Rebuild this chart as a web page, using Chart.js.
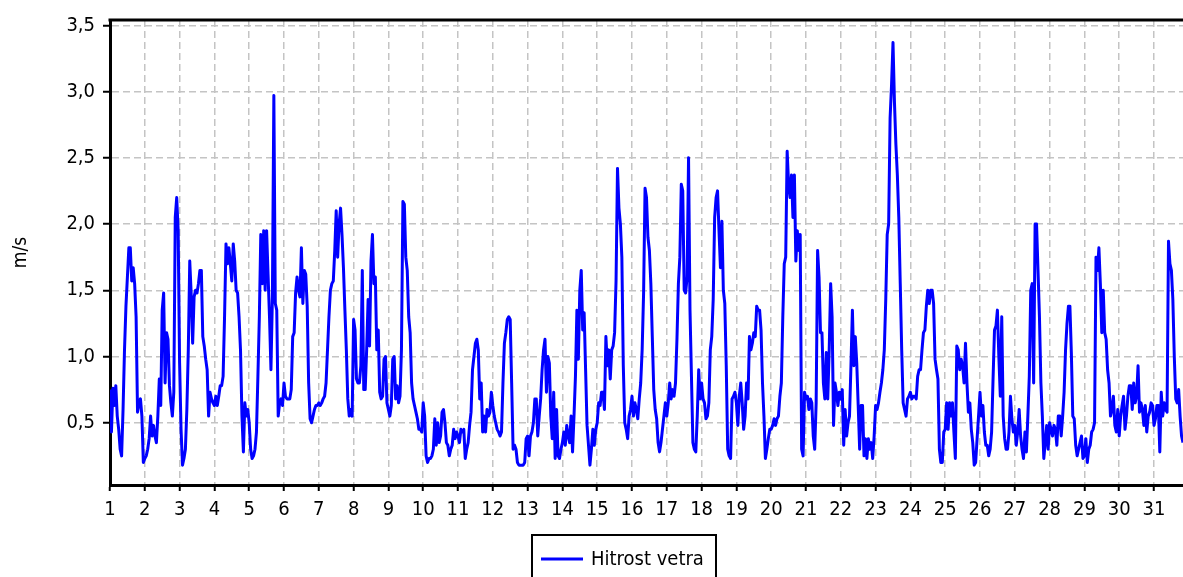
<!DOCTYPE html>
<html>
<head>
<meta charset="utf-8">
<script src="https://cdn.jsdelivr.net/npm/chart.js@4.4.1/dist/chart.umd.min.js"></script>
<style>
html,body{margin:0;padding:0;background:#ffffff;overflow:hidden;}
#wrap{position:relative;width:1183px;height:577px;}
</style>
</head>
<body>
<div id="wrap"><canvas id="chart" width="1183" height="577"></canvas></div>
<script>
// ---- data (hourly wind speed, m/s), one row per day ----
const seriesLabel = 'Hitrost vetra';
const yAxisTitle = 'm/s';
const firstDay = 1;
const hoursPerDay = 24;

const week1 = [
  0.75,0.43,0.76,0.63,0.78,0.55,0.45,0.30,0.25,0.60,1.05,1.38,1.60,1.82,1.82,1.57,1.67,1.55,1.30,0.58,0.65,0.68,0.55,0.20,
  0.23,0.25,0.30,0.38,0.55,0.40,0.48,0.40,0.35,0.55,0.83,0.63,1.35,1.48,0.80,1.18,1.13,0.78,0.65,0.55,0.73,2.05,2.20,1.95,
  0.95,0.45,0.18,0.23,0.30,0.60,1.05,1.72,1.47,1.10,1.45,1.50,1.48,1.55,1.65,1.65,1.15,1.08,0.98,0.90,0.55,0.73,0.68,0.65,
  0.63,0.70,0.63,0.70,0.78,0.78,0.85,1.30,1.85,1.70,1.82,1.70,1.57,1.85,1.72,1.50,1.48,1.30,1.05,0.55,0.28,0.65,0.55,0.60,
  0.50,0.30,0.23,0.25,0.30,0.43,0.85,1.30,1.92,1.55,1.95,1.50,1.95,1.62,1.30,0.90,1.45,2.97,1.40,1.35,0.55,0.65,0.68,0.63,
  0.80,0.70,0.68,0.68,0.68,0.75,1.15,1.18,1.48,1.60,1.50,1.45,1.82,1.40,1.65,1.62,1.38,0.80,0.53,0.50,0.55,0.60,0.63,0.63,
  0.65,0.63,0.65,0.68,0.70,0.80,1.05,1.30,1.50,1.55,1.57,1.80,2.10,1.75,2.00,2.12,1.92,1.67,1.35,1.05,0.68,0.55,0.60,0.55
];
const week2 = [
  1.28,1.20,0.83,0.80,0.80,0.93,1.65,0.75,0.75,1.05,1.43,1.08,1.72,1.92,1.55,1.60,1.05,1.20,0.73,0.68,0.70,0.98,1.00,0.65,
  0.60,0.55,0.63,0.98,1.00,0.68,0.78,0.65,0.70,1.05,2.17,2.15,1.75,1.65,1.30,1.18,0.80,0.68,0.63,0.58,0.53,0.45,0.45,0.43,
  0.65,0.55,0.25,0.20,0.23,0.23,0.25,0.30,0.53,0.33,0.50,0.35,0.40,0.58,0.60,0.50,0.35,0.33,0.25,0.30,0.33,0.45,0.38,0.43,
  0.40,0.35,0.45,0.43,0.45,0.23,0.30,0.35,0.48,0.58,0.90,1.00,1.10,1.13,1.05,0.68,0.80,0.43,0.55,0.43,0.60,0.55,0.58,0.73,
  0.63,0.55,0.50,0.45,0.43,0.40,0.43,0.80,1.10,1.18,1.28,1.30,1.28,0.80,0.30,0.33,0.30,0.20,0.18,0.18,0.18,0.18,0.20,0.38,
  0.40,0.25,0.40,0.43,0.50,0.68,0.68,0.40,0.55,0.68,0.90,1.05,1.13,0.73,1.00,0.95,0.55,0.38,0.73,0.23,0.60,0.25,0.23,0.30,
  0.35,0.43,0.33,0.48,0.40,0.35,0.55,0.28,0.55,0.85,1.35,0.98,1.50,1.65,1.20,1.33,0.90,0.48,0.33,0.18,0.30,0.45,0.33,0.45
];
const week3 = [
  0.50,0.65,0.63,0.73,0.73,0.60,1.15,0.93,1.05,0.83,1.05,1.08,1.18,1.57,2.42,2.12,2.00,1.75,0.93,0.50,0.45,0.38,0.55,0.60,
  0.70,0.55,0.65,0.60,0.53,0.68,0.80,1.05,1.48,2.27,2.20,1.90,1.80,1.55,1.15,0.75,0.60,0.53,0.35,0.28,0.35,0.45,0.55,0.65,
  0.55,0.65,0.80,0.68,0.75,0.70,0.80,1.13,1.55,1.75,2.30,2.25,1.50,1.48,1.60,2.50,1.35,0.85,0.35,0.30,0.28,0.55,0.90,0.68,
  0.80,0.68,0.65,0.53,0.55,0.65,1.05,1.15,1.43,2.05,2.20,2.25,1.95,1.67,2.02,1.50,1.40,0.93,0.30,0.25,0.23,0.68,0.70,0.73,
  0.65,0.48,0.70,0.80,0.65,0.45,0.55,0.80,0.68,1.15,1.05,1.10,1.18,1.15,1.38,1.35,1.35,1.20,0.80,0.55,0.23,0.30,0.38,0.45,
  0.45,0.48,0.53,0.48,0.53,0.55,0.70,0.80,1.30,1.70,1.75,2.55,2.30,2.20,2.37,2.05,2.37,1.72,1.95,1.80,1.92,0.30,0.25,0.73,
  0.68,0.70,0.60,0.68,0.65,0.40,0.30,0.65,1.80,1.60,1.18,1.18,0.80,0.68,1.03,0.68,1.05,1.55,1.30,0.48,0.80,0.73,0.63,0.73
];
const week4 = [
  0.68,0.75,0.33,0.60,0.40,0.50,0.55,0.93,1.35,0.93,1.15,0.95,0.63,0.30,0.63,0.63,0.25,0.38,0.23,0.38,0.30,0.35,0.23,0.40,
  0.63,0.60,0.65,0.73,0.80,0.90,1.05,1.43,1.92,2.00,2.80,3.05,3.37,2.92,2.60,2.37,2.05,1.55,1.05,0.65,0.60,0.55,0.68,0.70,
  0.73,0.68,0.70,0.70,0.68,0.85,0.90,0.90,1.05,1.18,1.20,1.38,1.50,1.40,1.50,1.50,1.40,0.98,0.90,0.83,0.30,0.20,0.20,0.43,
  0.45,0.65,0.45,0.65,0.55,0.65,0.43,0.23,1.08,1.05,0.90,0.98,0.93,0.80,1.10,0.80,0.58,0.65,0.45,0.35,0.18,0.20,0.38,0.55,
  0.73,0.55,0.63,0.43,0.33,0.33,0.25,0.30,0.43,0.83,1.20,1.23,1.35,1.00,0.70,1.30,0.55,0.38,0.30,0.30,0.43,0.70,0.53,0.43,
  0.48,0.33,0.43,0.60,0.40,0.30,0.23,0.43,0.28,0.55,0.85,1.50,1.55,0.80,2.00,2.00,1.65,1.30,0.80,0.55,0.23,0.35,0.48,0.30,
  0.50,0.45,0.40,0.48,0.45,0.33,0.55,0.55,0.40,0.55,0.73,1.05,1.25,1.38,1.38,1.03,0.55,0.53,0.33,0.25,0.30,0.35,0.40,0.23
];
const week5 = [
  0.25,0.38,0.20,0.30,0.33,0.43,0.45,0.50,1.75,1.65,1.82,1.55,1.18,1.50,1.18,1.13,0.90,0.80,0.55,0.60,0.70,0.48,0.43,0.60,
  0.40,0.55,0.63,0.70,0.45,0.55,0.70,0.78,0.78,0.60,0.80,0.65,0.70,0.93,0.58,0.65,0.60,0.48,0.63,0.43,0.55,0.58,0.65,0.63,
  0.48,0.53,0.63,0.63,0.28,0.73,0.55,0.65,0.60,0.58,1.87,1.70,1.65,1.43,1.00,0.68,0.65,0.75,0.55,0.40,0.35
];

const yMin = 0.03;
const yMax = 3.54;
const yStep = 0.5;
const xStep = 1;

const speed = [...week1, ...week2, ...week3, ...week4, ...week5];
const points = speed.map((v, i) => ({ x: firstDay + i / hoursPerDay, y: v }));
const lastX = firstDay + (speed.length - 1) / hoursPerDay;

const FONT = '"DejaVu Sans Condensed", "DejaVu Sans", sans-serif';

const frameLegend = {
  id: 'frameLegend',
  afterDraw(chart) {
    const { ctx, chartArea: a } = chart;
    ctx.save();
    // top frame line
    ctx.strokeStyle = '#000';
    ctx.lineWidth = 3;
    ctx.beginPath();
    ctx.moveTo(a.left - 1.5, a.top);
    ctx.lineTo(a.right, a.top);
    ctx.stroke();
    // legend box
    const ds = chart.data.datasets[0];
    const boxL = 532, boxT = 535, boxW = 184, boxH = 54;
    ctx.lineWidth = 2;
    ctx.strokeStyle = '#000';
    ctx.strokeRect(boxL, boxT, boxW, boxH);
    ctx.strokeStyle = ds.borderColor;
    ctx.lineWidth = 3;
    ctx.beginPath();
    ctx.moveTo(boxL + 9, boxT + 24);
    ctx.lineTo(boxL + 51, boxT + 24);
    ctx.stroke();
    ctx.fillStyle = '#000';
    ctx.font = '20px ' + FONT;
    ctx.textAlign = 'left';
    ctx.textBaseline = 'middle';
    ctx.fillText(ds.label, boxL + 59, boxT + 25);
    ctx.restore();
  }
};

new Chart(document.getElementById('chart').getContext('2d'), {
  type: 'line',
  data: {
    datasets: [{
      label: seriesLabel,
      data: points,
      borderColor: '#0000ff',
      backgroundColor: '#0000ff',
      borderWidth: 3,
      pointRadius: 0,
      tension: 0,
      borderJoinStyle: 'round',
      fill: false
    }]
  },
  options: {
    responsive: false,
    animation: false,
    events: [],
    layout: { padding: { top: 16, right: 0, bottom: 0, left: 0 } },
    plugins: { legend: { display: false }, tooltip: { enabled: false } },
    scales: {
      x: {
        type: 'linear',
        min: firstDay,
        max: lastX,
        ticks: {
          stepSize: xStep,
          includeBounds: false,
          autoSkip: false,
          maxRotation: 0,
          color: '#000',
          padding: 7,
          font: { family: FONT, size: 20 },
          callback: v => String(Math.round(v))
        },
        grid: { color: '#c4c4c4', lineWidth: 1.5, tickColor: '#000', tickLength: 6, tickWidth: 2, tickBorderDash: [] },
        border: { display: true, color: '#000', width: 3, dash: [7, 4] },
        afterFit: s => { s.height = 92; }
      },
      y: {
        type: 'linear',
        min: yMin,
        max: yMax,
        ticks: {
          stepSize: yStep,
          includeBounds: false,
          color: '#000',
          padding: 8,
          font: { family: FONT, size: 20 },
          callback: v => Number(v).toFixed(1).replace('.', ',')
        },
        grid: { color: '#c4c4c4', lineWidth: 1.5, tickColor: '#000', tickLength: 7, tickWidth: 2, tickBorderDash: [] },
        border: { display: true, color: '#000', width: 3, dash: [7, 4] },
        title: { display: true, text: yAxisTitle, color: '#000', font: { family: FONT, size: 19 }, padding: { top: 10, bottom: 0 } },
        afterFit: s => { s.width = 110; }
      }
    }
  },
  plugins: [frameLegend]
});
</script>
</body>
</html>
